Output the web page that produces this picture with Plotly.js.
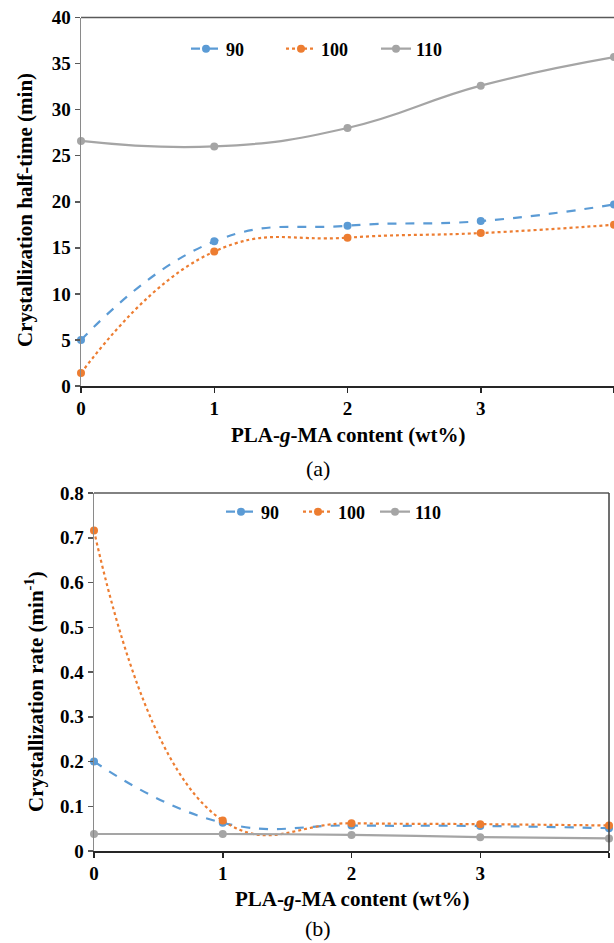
<!DOCTYPE html>
<html>
<head>
<meta charset="utf-8">
<script src="https://cdn.plot.ly/plotly-3.0.1.min.js"></script>
<style>html,body{margin:0;padding:0;background:#fff;}#chart{width:614px;height:943px;}</style>
</head>
<body>
<div id="chart"></div>
<script>
const content = [0, 1, 2, 3, 4];
const seriesNames = ['90', '100', '110'];
const halfTime90 = [5.0, 15.7, 17.4, 17.9, 19.7];
const halfTime100 = [1.4, 14.6, 16.1, 16.6, 17.5];
const halfTime110 = [26.6, 26.0, 28.0, 32.6, 35.7];
const rate90 = [0.200, 0.063, 0.057, 0.056, 0.051];
const rate100 = [0.716, 0.068, 0.062, 0.060, 0.057];
const rate110 = [0.038, 0.038, 0.036, 0.031, 0.028];
const rateTicks = [0, 0.1, 0.2, 0.3, 0.4, 0.5, 0.6, 0.7, 0.8];
const rateTickText = ['0', '0.1', '0.2', '0.3', '0.4', '0.5', '0.6', '0.7', '0.8'];
const xTitle = 'PLA-<i>g</i>-MA content (wt%)';
const yTitleA = 'Crystallization half-time (min)';
const yTitleB = 'Crystallization rate (min<sup>-1</sup>)';

const colors = ['#5B9BD5', '#ED7D31', '#A5A5A5'];
const dashes = ['dash', 'dot', 'solid'];
const FONT = "'Liberation Serif', 'Times New Roman', Times, serif";

function tr(y, i, xa, ya, leg) {
  return {
    x: content, y: y, name: seriesNames[i], type: 'scatter', mode: 'lines+markers',
    xaxis: xa, yaxis: ya, legend: leg,
    line: {color: colors[i], dash: dashes[i], width: 2.2, shape: 'spline', smoothing: 1.3},
    marker: {color: colors[i], size: 8, symbol: 'circle'},
    cliponaxis: false
  };
}

const data = [
  tr(halfTime90, 0, 'x', 'y', 'legend'),
  tr(halfTime100, 1, 'x', 'y', 'legend'),
  tr(halfTime110, 2, 'x', 'y', 'legend'),
  tr(rate90, 0, 'x2', 'y2', 'legend2'),
  tr(rate100, 1, 'x2', 'y2', 'legend2'),
  tr(rate110, 2, 'x2', 'y2', 'legend2')
];

const H = 943, W = 614;
const tickFont = {family: FONT, size: 19, color: '#000', weight: 'bold'};
const xCommon = {
  showgrid: false, zeroline: false, showline: true, linecolor: '#262626', linewidth: 1.5,
  ticks: 'outside', ticklen: 5, tickcolor: '#262626', tickwidth: 1.5, tickfont: tickFont
};
const yCommon = {
  showgrid: false, zeroline: false, showline: true, linecolor: '#8a8a8a', linewidth: 1.5,
  ticks: 'outside', ticklen: 5, tickcolor: '#595959', tickwidth: 1.5, tickfont: tickFont
};
const titleFont = {family: FONT, size: 21, color: '#000', weight: 'bold'};
const legFont = {family: FONT, size: 18, color: '#000', weight: 'bold'};

function ann(text, x, y, angle, font) {
  return {text: text, xref: 'paper', yref: 'paper', x: x / W, y: 1 - y / H, showarrow: false,
    xanchor: 'center', yanchor: 'middle', textangle: angle, font: font};
}
const capFont = {family: FONT, size: 22, color: '#000'};

const layout = {
  width: W, height: H,
  margin: {l: 0, r: 0, t: 0, b: 0},
  paper_bgcolor: '#fff', plot_bgcolor: '#fff',
  showlegend: true,
  xaxis: Object.assign({}, xCommon, {
    domain: [81 / W, 1.0], range: [0, 4], tickvals: content, mirror: false, anchor: 'y'
  }),
  yaxis: Object.assign({}, yCommon, {
    domain: [(H - 386) / H, (H - 17.5) / H], range: [0, 40], dtick: 5, anchor: 'x'
  }),
  xaxis2: Object.assign({}, xCommon, {
    domain: [94 / W, 609 / W], range: [0, 4], tickvals: content, mirror: false, anchor: 'y2'
  }),
  yaxis2: Object.assign({}, yCommon, {
    domain: [(H - 851) / H, (H - 493) / H], range: [0, 0.8],
    tickvals: rateTicks, ticktext: rateTickText,
    anchor: 'x2', mirror: false
  }),
  shapes: [
    {type: 'line', xref: 'x domain', yref: 'y domain', x0: 0, x1: 1, y0: 1, y1: 1,
     line: {color: '#595959', width: 1.5}},
    {type: 'line', xref: 'x2 domain', yref: 'y2 domain', x0: 0, x1: 1, y0: 1, y1: 1,
     line: {color: '#595959', width: 1.5}},
    {type: 'line', xref: 'x2 domain', yref: 'y2 domain', x0: 1, x1: 1, y0: 0, y1: 1,
     line: {color: '#404040', width: 1.5}}
  ],
  legend: {
    orientation: 'h', x: 186 / W, y: 1 - 49 / H, xanchor: 'left', yanchor: 'middle',
    entrywidth: 50, entrywidthmode: 'pixels',
    font: legFont, bgcolor: 'rgba(0,0,0,0)'
  },
  legend2: {
    orientation: 'h', x: 221 / W, y: 1 - 512 / H, xanchor: 'left', yanchor: 'middle',
    entrywidth: 32, entrywidthmode: 'pixels',
    font: legFont, bgcolor: 'rgba(0,0,0,0)'
  },
  annotations: [
    ann(xTitle, 348, 435, 0, titleFont),
    ann(yTitleA, 25, 210, -90, titleFont),
    ann(xTitle, 352, 899, 0, titleFont),
    ann(yTitleB, 34, 692, -90, titleFont),
    ann('(a)', 318, 468, 0, capFont),
    ann('(b)', 318, 928, 0, capFont)
  ]
};

Plotly.newPlot('chart', data, layout, {displayModeBar: false, staticPlot: true});
</script>
</body>
</html>
